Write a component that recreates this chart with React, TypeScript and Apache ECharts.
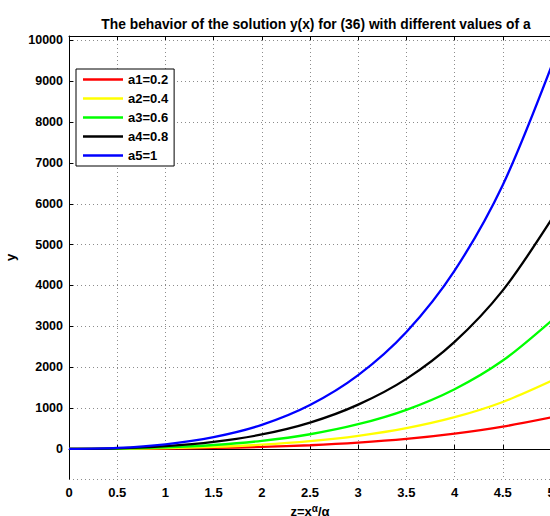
import React, { useEffect, useRef } from "react";
import * as echarts from "echarts";

const xValues = [0, 0.5, 1, 1.5, 2, 2.5, 3, 3.5, 4, 4.5, 5];
const seriesNames = ["a1=0.2", "a2=0.4", "a3=0.6", "a4=0.8", "a5=1"];
const seriesColors = ["#ff0000", "#ffff00", "#00ff00", "#000000", "#0000ff"];
const a1 = [0, 2, 10, 25, 50, 91, 154, 245, 375, 545, 770];
const a2 = [0, 4.5, 20, 52, 105, 191, 321, 509, 777, 1150, 1662];
const a3 = [0, 8, 38, 97, 198, 360, 605, 958, 1462, 2164, 3130];
const a4 = [0, 15, 70, 175, 355, 645, 1085, 1715, 2620, 3880, 5600];
const a5 = [0, 25, 114, 290, 590, 1075, 1806, 2862, 4365, 6460, 9335];
const seriesValues = [a1, a2, a3, a4, a5];

const titleText = "The behavior of the solution y(x) for (36) with different values of a";
const FONT = "'Liberation Sans', Arial, Helvetica, sans-serif";

export default function App() {
  const ref = useRef<HTMLDivElement>(null);
  useEffect(() => {
    if (!ref.current) return;
    const chart = echarts.init(ref.current, null, { renderer: "svg" });
    const gridLine = { show: true, lineStyle: { color: "#8c8c8c", type: [1, 3] as any, width: 1 } };
    chart.setOption({
      animation: false,
      backgroundColor: "#ffffff",
      title: {
        text: titleText,
        left: 311,
        top: 12,
        textAlign: "center",
        textStyle: { fontFamily: FONT, fontSize: 13.8, fontWeight: "bold", color: "#000" },
      },
      legend: {
        orient: "vertical",
        left: 76,
        top: 69,
        padding: [1, 6, 1, 7],
        itemGap: 0,
        itemWidth: 40,
        itemHeight: 2.5,
        icon: "rect",
        selectedMode: false,
        backgroundColor: "#ffffff",
        borderColor: "#000000",
        borderWidth: 1,
        borderRadius: 0,
        data: seriesNames,
        textStyle: { fontFamily: FONT, fontSize: 13, fontWeight: "bold", color: "#000", lineHeight: 19 },
      },
      grid: { left: 69, top: 36, width: 482, height: 443, containLabel: false, outerBoundsMode: "none" },
      xAxis: [
        {
          type: "value",
          min: 0,
          max: 5,
          interval: 0.5,
          name: "z=x{sup|α}/α",
          nameLocation: "middle",
          nameGap: 19,
          nameTextStyle: {
            fontFamily: FONT,
            fontSize: 13,
            fontWeight: "bold",
            color: "#000",
            lineHeight: 16,
            rich: {
              sup: { fontFamily: FONT, fontSize: 10, color: "#000", lineHeight: 16, padding: [0, 0, 6, 0] },
            },
          },
          axisLine: { show: true, lineStyle: { color: "#000", width: 1 } },
          axisTick: { show: true, inside: true, length: 4, lineStyle: { color: "#000" } },
          axisLabel: { fontFamily: FONT, fontSize: 13, fontWeight: "bold", color: "#000", margin: 7 },
          splitLine: gridLine,
        },
        {
          type: "value",
          position: "top",
          min: 0,
          max: 5,
          interval: 0.5,
          axisLine: { show: true, onZero: false, lineStyle: { color: "#000", width: 1 } },
          axisTick: { show: true, inside: true, length: 4, lineStyle: { color: "#000" } },
          axisLabel: { show: false },
          splitLine: { show: false },
        },
      ],
      yAxis: {
        type: "value",
        min: -735,
        max: 10105,
        minInterval: 1000,
        maxInterval: 1000,
        splitNumber: 11,
        name: "y",
        nameLocation: "middle",
        nameGap: 47,
        nameRotate: 90,
        nameTextStyle: { fontFamily: FONT, fontSize: 13, fontWeight: "bold", color: "#000" },
        axisLine: { show: true, onZero: false, lineStyle: { color: "#000", width: 1 } },
        axisTick: { show: true, inside: true, length: 4, lineStyle: { color: "#000" } },
        axisLabel: {
          fontFamily: FONT,
          fontSize: 12.5,
          fontWeight: "bold",
          color: "#000",
          margin: 6,
          showMinLabel: false,
          showMaxLabel: false,
          formatter: (v: number) => String(v),
        },
        splitLine: gridLine,
      },
      series: seriesNames.map((name, i) => ({
        name,
        type: "line",
        xAxisIndex: 0,
        smooth: 0.3,
        showSymbol: false,
        symbol: "none",
        color: seriesColors[i],
        lineStyle: { color: seriesColors[i], width: 2.3 },
        data: xValues.map((x, j) => [x, seriesValues[i][j]]),
      })),
    });
    return () => chart.dispose();
  }, []);
  return (
    <div
      ref={ref}
      style={{ position: "absolute", left: 0, top: 0, width: 550, height: 516 }}
    />
  );
}
